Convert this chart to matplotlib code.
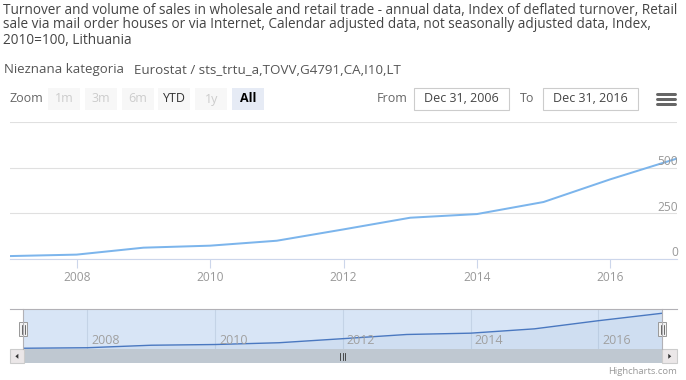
import numpy as np
import matplotlib
matplotlib.use("Agg")
import matplotlib.pyplot as plt
import matplotlib.dates as mdates
from matplotlib.patches import Rectangle, Polygon
from matplotlib.lines import Line2D
import matplotlib.transforms as mtransforms

plt.rcParams['font.family'] = ['Open Sans', 'DejaVu Sans']

# data (annual values, plotted at Dec 31 of each year)
years = list(range(2006, 2017))
values = [16, 24, 62, 73, 100, 162, 226, 246, 312, 436, 550]
dates = np.array([np.datetime64(f"{y}-12-31") for y in years])
tick_years = [2008, 2010, 2012, 2014, 2016]
y_ticks = [0, 250, 500, 750]
y_labels = ["0", "250", "500", ""]

title_lines = [
    "Turnover and volume of sales in wholesale and retail trade - annual data, Index of deflated turnover, Retail",
    "sale via mail order houses or via Internet, Calendar adjusted data, not seasonally adjusted data, Index,",
    "2010=100, Lithuania",
]
W, H = 686, 380


def fx(x):
    return x / W


def fy(y):
    return 1 - y / H


def pt(px):
    return px * 0.72


fig = plt.figure(figsize=(W / 100, H / 100), dpi=100)

# title + subtitle
for i, line in enumerate(title_lines):
    fig.text(fx(3), fy(10 + i * 15), line, fontsize=pt(13.6), color='#444444', va='center', ha='left')
fig.text(fx(4), fy(70), "Nieznana kategoria", fontsize=pt(13.2), color='#555555', va='center')
fig.text(fx(134), fy(70), "Eurostat / sts_trtu_a,TOVV,G4791,CA,I10,LT", fontsize=pt(13.4), color='#555555', va='center')

# range selector
fig.text(fx(10), fy(99), "Zoom", fontsize=pt(12.5), color='#666666', va='center')
buttons = ["1m", "3m", "6m", "YTD", "1y", "All"]
for i, b in enumerate(buttons):
    x0 = 48.3 + i * 36.7
    bg = '#e6ebf5' if b == "All" else '#f7f7f7'
    col = '#cccccc' if b in ("1m", "3m", "6m", "1y") else '#000000' if b == "All" else '#333333'
    fig.add_artist(Rectangle((fx(x0), fy(110)), fx(32), 22 / H, transform=fig.transFigure,
                             facecolor=bg, edgecolor='none'))
    fig.text(fx(x0 + 16), fy(99), b, fontsize=pt(12.5), color=col, ha='center', va='center',
             fontweight='bold' if b == "All" else 'normal')

fig.text(fx(377), fy(99), "From", fontsize=pt(12.5), color='#666666', va='center')
fig.text(fx(520), fy(99), "To", fontsize=pt(12.5), color='#666666', va='center')
for x0, txt in [(414.3, "Dec 31, 2006"), (543.3, "Dec 31, 2016")]:
    fig.add_artist(Rectangle((fx(x0), fy(110)), fx(94.4), 22 / H, transform=fig.transFigure,
                             facecolor='white', edgecolor='#cccccc', linewidth=0.8))
    fig.text(fx(x0 + 47), fy(99), txt, fontsize=pt(12.5), color='#444444', ha='center', va='center')
for yy in (94, 99, 104):
    fig.add_artist(Line2D([fx(657), fx(675)], [fy(yy), fy(yy)], transform=fig.transFigure,
                          color='#666666', linewidth=pt(3), solid_capstyle='round'))

# main chart
ax = fig.add_axes([fx(10), fy(259), fx(667), (259 - 122) / H])
ax.plot(dates, values, color='#7cb5ec', linewidth=pt(2))
ax.set_xlim(np.datetime64("2006-12-31"), np.datetime64("2016-12-31"))
ax.set_ylim(0, 750)
ax.set_yticks(y_ticks)
ax.yaxis.grid(True, color='#e0e0e0', linewidth=0.8)
ax.set_axisbelow(True)
ax.tick_params(axis='y', length=0, labelleft=False)
for s in ['top', 'left', 'right']:
    ax.spines[s].set_visible(False)
ax.spines['bottom'].set_color('#ccd6eb')
ax.set_xticks([np.datetime64(f"{y}-01-01") for y in tick_years])
ax.xaxis.set_major_formatter(mdates.DateFormatter('%Y'))
ax.tick_params(axis='x', length=pt(9), color='#ccd6eb', labelcolor='#999999',
               labelsize=pt(12), pad=pt(3))
ytrans = mtransforms.offset_copy(ax.get_yaxis_transform(), fig=fig, x=pt(1), y=pt(6), units='points')
for v, lab in zip(y_ticks, y_labels):
    ax.text(1.0, v, lab, transform=ytrans, ha='right', va='center', fontsize=pt(12), color='#999999')

# navigator
nav = fig.add_axes([fx(23.3), fy(349.3), fx(639), 40 / H])
nav.set_facecolor('#d8e5f6')
nav.fill_between(dates, values, color='#4572a7', alpha=0.06, linewidth=0)
nav.plot(dates, values, color='#4a78c0', linewidth=1)
nav.set_xlim(np.datetime64("2006-12-31"), np.datetime64("2016-12-31"))
nav.set_ylim(0, 610)
nav.set_xticks([np.datetime64(f"{y}-01-01") for y in tick_years])
nav.xaxis.grid(True, color='#c4d3e6', linewidth=0.8)
nav.set_axisbelow(True)
nav.tick_params(length=0, labelbottom=False, labelleft=False)
nav.set_yticks([])
for s in nav.spines.values():
    s.set_visible(False)
xtrans = mtransforms.offset_copy(nav.get_xaxis_transform(), fig=fig, x=pt(4), y=0, units='points')
for y in tick_years:
    nav.text(np.datetime64(f"{y}-01-01"), 8.3 / 40, str(y), transform=xtrans, ha='left', va='center',
             fontsize=pt(12.5), color='#a0a0a0')

# navigator outline
fig.add_artist(Line2D([fx(10), fx(677)], [fy(309.3), fy(309.3)], transform=fig.transFigure,
                      color='#b2b1b6', linewidth=0.8))
for xe in (23.3, 662.3):
    fig.add_artist(Line2D([fx(xe), fx(xe)], [fy(309.3), fy(349.3)], transform=fig.transFigure,
                          color='#b2b1b6', linewidth=0.8))
    fig.add_artist(Rectangle((fx(xe - 4.3), fy(336)), fx(8.3), 14.3 / H, transform=fig.transFigure,
                             facecolor='#f2f2f2', edgecolor='#999999', linewidth=0.7))
    for dx in (-1.2, 1.2):
        fig.add_artist(Line2D([fx(xe + dx), fx(xe + dx)], [fy(324.5), fy(333.5)],
                              transform=fig.transFigure, color='#333333', linewidth=0.5))

# scrollbar
fig.add_artist(Rectangle((fx(10), fy(363.3)), fx(667), 14 / H, transform=fig.transFigure,
                         facecolor='#eeeeee', edgecolor='none'))
fig.add_artist(Rectangle((fx(23.3), fy(363.3)), fx(639), 14 / H, transform=fig.transFigure,
                         facecolor='#bfc8d1', edgecolor='none'))
for x0, d in [(10, -1), (662.3, 1)]:
    fig.add_artist(Rectangle((fx(x0), fy(363.3)), fx(14.3), 14 / H, transform=fig.transFigure,
                             facecolor='#ebe7e8', edgecolor='#cccccc', linewidth=0.8))
    cx = x0 + 7.15
    pts = [(fx(cx + d * 1.8), fy(356.3)), (fx(cx - d * 1.2), fy(353.8)), (fx(cx - d * 1.2), fy(358.8))]
    fig.add_artist(Polygon(pts, closed=True, transform=fig.transFigure, facecolor='#333333',
                           edgecolor='none'))
for dx in (-2.5, 0, 2.5):
    fig.add_artist(Line2D([fx(342.8 + dx), fx(342.8 + dx)], [fy(352.5), fy(360)],
                          transform=fig.transFigure, color='#333333', linewidth=0.6))

fig.text(fx(677), fy(372), "Highcharts.com", fontsize=pt(9.5), color='#999999', ha='right', va='center')

fig.savefig("out.png", dpi=100)
